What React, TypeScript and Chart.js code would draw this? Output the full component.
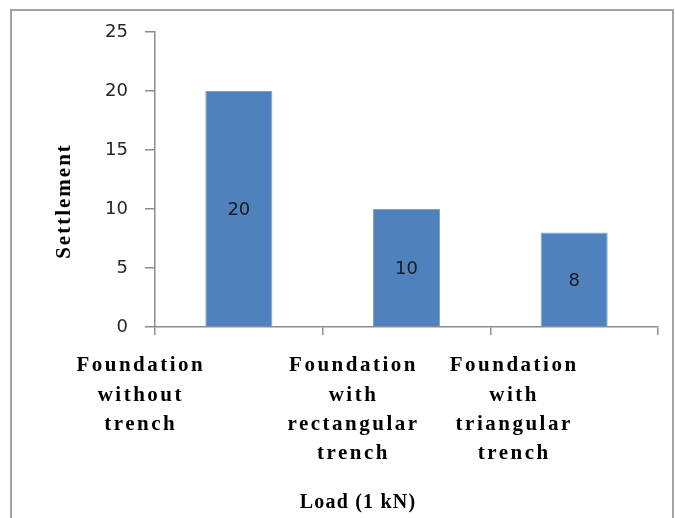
import React, { useEffect, useRef } from 'react';
import { Chart, registerables } from 'chart.js';

Chart.register(...registerables);

// Categories (wrapped onto several lines) and measured settlement
const categories: string[][] = [
  ['Foundation', 'without', 'trench'],
  ['Foundation', 'with', 'rectangular', 'trench'],
  ['Foundation', 'with', 'triangular', 'trench'],
];
const settlement: number[] = [20, 10, 8];
const yMin = 0;
const yMax = 25;
const yStep = 5;
const xTitle = 'Load (1 kN)';
const yTitle = 'Settlement';

// Horizontal shift of each wrapped category label relative to its category centre
const labelShift = [-98, -53, -60];

const serifBold = (px: number) => `bold ${px}px "Liberation Serif", "Times New Roman", serif`;
const sans = (px: number) => `${px}px "DejaVu Sans", Verdana, sans-serif`;

const decorPlugin = {
  id: 'decor',
  afterDatasetsDraw(chart: any) {
    const ctx = chart.ctx as CanvasRenderingContext2D;
    const meta = chart.getDatasetMeta(0);
    ctx.save();
    ctx.fillStyle = '#1a1a1a';
    ctx.font = sans(18);
    ctx.textAlign = 'center';
    ctx.textBaseline = 'middle';
    meta.data.forEach((bar: any, i: number) => {
      ctx.fillText(String(settlement[i]), bar.x, (bar.y + bar.base) / 2 + 2);
    });
    ctx.restore();
  },
  afterDraw(chart: any) {
    const ctx = chart.ctx as CanvasRenderingContext2D;
    const xs = chart.scales.x;
    ctx.save();

    // outer frame
    ctx.strokeStyle = '#A3A3A3';
    ctx.lineWidth = 2;
    ctx.strokeRect(11, 10, 662, 540);

    // wrapped category labels
    ctx.fillStyle = '#000';
    ctx.font = serifBold(21);
    (ctx as any).letterSpacing = '2.5px';
    ctx.textAlign = 'center';
    ctx.textBaseline = 'middle';
    categories.forEach((lines, i) => {
      const cx = xs.getPixelForValue(i) + labelShift[i];
      lines.forEach((t, j) => ctx.fillText(t, cx, 366 + j * 29.3));
    });

    // axis titles
    ctx.font = serifBold(20);
    (ctx as any).letterSpacing = '1.2px';
    ctx.fillText(xTitle, 358, 503);

    ctx.font = serifBold(21);
    (ctx as any).letterSpacing = '2px';
    ctx.translate(65, 201);
    ctx.rotate(-Math.PI / 2);
    ctx.fillText(yTitle, 0, 0);
    ctx.restore();
  },
};

export default function App() {
  const ref = useRef<HTMLCanvasElement | null>(null);

  useEffect(() => {
    if (!ref.current) return;
    const chart = new Chart(ref.current, {
      type: 'bar',
      data: {
        labels: categories.map((c) => c.join(' ')),
        datasets: [
          {
            label: yTitle,
            data: settlement,
            backgroundColor: '#4F81BD',
            borderColor: '#7EA3CF',
            borderWidth: 1,
            categoryPercentage: 0.8,
            barPercentage: 0.5,
          },
        ],
      },
      options: {
        responsive: false,
        animation: false,
        layout: { padding: { left: 0, right: 17, top: 32, bottom: 0 } },
        plugins: {
          legend: { display: false },
          tooltip: { enabled: false },
          title: { display: false },
        },
        scales: {
          x: {
            ticks: { display: false },
            grid: {
              drawOnChartArea: false,
              drawTicks: true,
              tickLength: 8,
              color: '#8C8C8C',
              lineWidth: 1.5,
            },
            border: { color: '#8C8C8C', width: 1.5 },
            afterFit: (scale: any) => {
              scale.height = 191;
            },
          },
          y: {
            min: yMin,
            max: yMax,
            ticks: {
              stepSize: yStep,
              padding: 17,
              color: '#262626',
              font: { family: '"DejaVu Sans", Verdana, sans-serif', size: 18 },
            },
            grid: {
              drawOnChartArea: false,
              drawTicks: true,
              tickLength: 10,
              color: '#8C8C8C',
              lineWidth: 1.5,
            },
            border: { color: '#8C8C8C', width: 1.5 },
            afterFit: (scale: any) => {
              scale.width = 155;
            },
          },
        },
      },
      plugins: [decorPlugin],
    });
    return () => chart.destroy();
  }, []);

  return (
    <div style={{ position: 'fixed', left: 0, top: 0, width: 675, height: 518, background: '#fff' }}>
      <canvas ref={ref} width={675} height={518} style={{ display: 'block' }} />
    </div>
  );
}
